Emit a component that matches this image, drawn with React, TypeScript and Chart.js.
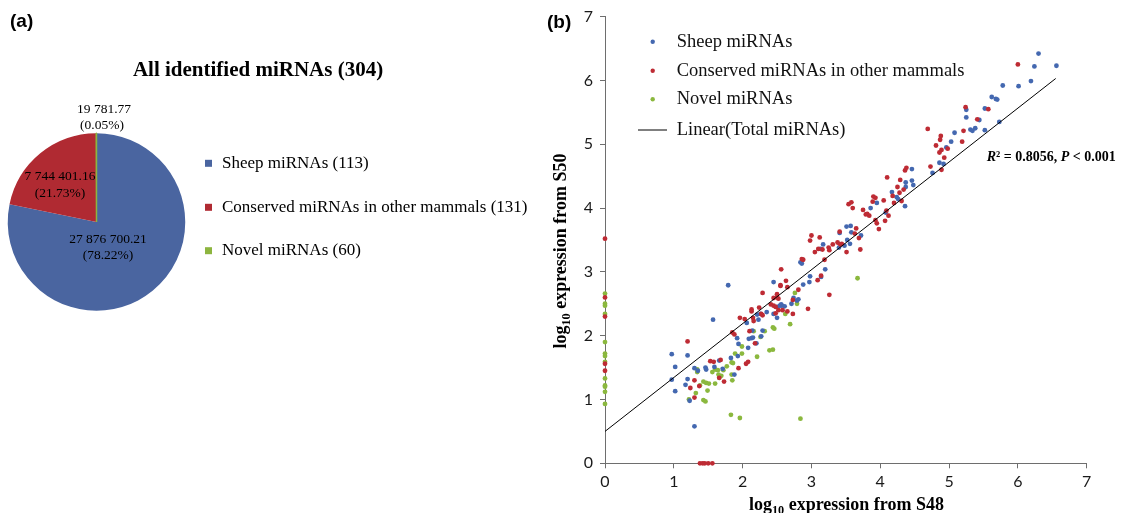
import React, { useEffect, useRef } from "react";
import { Chart, registerables } from "chart.js";
Chart.register(...registerables);

// ---------- Panel (a) data ----------
const pieCategories = ["Sheep miRNAs", "Conserved miRNAs in other mammals", "Novel miRNAs"];
const pieCounts = [113, 131, 60];
const pieValues = [27876700.21, 7744401.16, 19781.77];
const piePercents = ["78.22%", "21.73%", "0.05%"];
const pieTitle = "All identified miRNAs (304)";

// ---------- Panel (b) data ----------
const scatterLegend = ["Sheep miRNAs", "Conserved miRNAs in other mammals", "Novel miRNAs", "Linear(Total miRNAs)"];
const axisMin = 0;
const axisMax = 7;
const sheepPoints: [number, number][] = [
  [0.97,1.71],[1.20,1.69],[1.02,1.51],[0.97,1.31],[1.20,1.32],[1.02,1.13],[1.17,1.23],[1.23,0.98],[1.30,1.49],[1.35,1.45],
  [1.46,1.50],[1.47,1.47],[1.59,1.51],[1.66,1.61],[1.71,1.48],[1.83,1.65],[1.88,1.39],[1.93,1.68],[1.94,1.87],[1.92,1.96],
  [2.09,1.95],[2.13,1.96],[2.15,1.97],[2.27,1.99],[2.08,1.81],[1.30,0.58],[2.06,2.20],[2.23,2.25],[2.35,2.37],[2.26,2.34],
  [2.29,2.08],[2.45,2.34],[2.50,2.28],[2.50,2.45],[1.79,2.79],[2.45,2.84],[1.57,2.25],
  [3.51,3.71],[3.57,3.72],[3.58,3.62],[3.72,3.57],[3.41,3.61],[3.52,3.50],[3.56,3.44],[3.48,3.41],[3.40,3.38],[3.17,3.43],
  [3.13,3.36],[3.20,3.04],[2.98,2.93],[3.14,2.92],[2.97,2.84],[2.88,2.80],[2.84,3.15],[2.86,3.13],[2.74,2.59],[2.79,2.55],
  [2.81,2.57],[2.71,2.50],[2.54,2.47],[2.57,2.47],[2.61,2.46],[2.56,2.49],[2.21,2.33],[2.14,2.08],[2.20,1.88],[3.86,4.00],
  [3.95,4.08],[4.17,4.25],
  [6.30,6.42],[6.56,6.23],[6.24,6.22],[6.19,5.99],[6.01,5.91],[5.78,5.92],[5.62,5.74],[5.68,5.71],[5.70,5.70],[5.52,5.56],
  [5.25,5.54],[5.25,5.42],[5.44,5.38],[5.73,5.35],[5.31,5.23],[5.34,5.21],[5.38,5.25],[5.52,5.22],[5.08,5.18],[5.03,5.04],
  [4.96,4.95],[4.86,4.71],[4.92,4.69],[4.76,4.55],[4.46,4.61],[4.46,4.43],[4.48,4.36],[4.37,4.40],[4.37,4.33],[4.24,4.17],
  [4.26,4.14],[4.36,4.03],[4.08,3.93],
];
const conservedPoints: [number, number][] = [
  [0,3.52],[0,2.60],[0,2.30],[0,1.56],[0,1.45],
  [1.38,0],[1.42,0],[1.45,0],[1.50,0],[1.56,0],
  [1.20,1.91],[1.30,1.30],[1.30,1.03],[1.24,1.18],[1.37,1.21],[1.53,1.60],[1.58,1.59],[1.68,1.62],[1.66,1.34],[1.73,1.28],
  [1.85,2.05],[1.88,2.02],[1.94,1.49],[2.05,1.56],[2.08,1.59],[1.96,2.28],[2.03,2.26],[2.10,2.07],[2.16,2.23],[2.18,1.88],
  [2.13,2.41],[2.13,2.38],[2.24,2.44],[2.29,2.67],[2.41,2.49],[2.45,2.47],[2.48,2.45],[2.50,2.60],[2.52,2.58],[2.52,2.40],
  [2.55,2.79],
  [3.54,4.06],[3.58,4.09],[3.60,4.00],[3.41,3.63],[3.65,3.68],[3.75,3.97],[3.79,3.90],[3.84,3.88],[3.89,4.10],[3.90,4.18],
  [3.93,4.16],[3.93,3.81],[3.95,3.76],[3.98,3.67],[3.63,3.60],[3.69,3.53],[3.71,3.35],[3.51,3.31],[3.00,3.57],[2.98,3.49],
  [3.12,3.54],[3.05,3.31],[3.10,3.36],[3.16,3.35],[3.25,3.38],[3.26,3.34],[3.31,3.43],[3.38,3.46],[3.42,3.43],[3.44,3.44],
  [3.19,3.19],[2.86,3.20],[2.88,3.19],[3.14,2.94],[3.09,2.87],[3.26,2.64],[2.56,3.04],[2.63,2.86],[2.55,2.78],[2.65,2.76],
  [2.81,2.72],[2.50,2.65],[2.45,2.59],[2.58,2.40],[2.65,2.38],[2.73,2.56],[2.73,2.34],[2.95,2.42],[2.48,2.35],[2.29,2.32],
  [2.27,2.34],[2.15,2.28],[3.81,3.91],
  [6.00,6.25],[5.24,5.58],[5.57,5.55],[5.41,5.39],[4.69,5.24],[4.88,5.13],[4.87,5.07],[4.81,4.98],[5.21,5.21],[5.19,5.04],
  [4.98,4.93],[4.89,4.91],[4.86,4.87],[4.93,4.79],[4.73,4.65],[4.89,4.60],[4.38,4.63],[4.36,4.59],[4.29,4.44],[4.10,4.48],
  [4.25,4.33],[4.34,4.29],[4.28,4.24],[4.18,4.19],[4.05,4.12],[4.20,4.08],[4.31,4.11],[4.12,3.88],[4.07,3.80],[4.09,3.96],
];
const novelPoints: [number, number][] = [
  [0,2.66],[0,2.50],[0,2.47],[0,2.34],[0,1.90],[0,1.72],[0,1.68],[0,1.59],[0,1.33],[0,1.22],[0,1.20],[0,1.12],[0,0.93],
  [1.22,1.00],[1.34,1.47],[1.34,1.43],[1.32,1.10],[1.38,1.22],[1.43,1.28],[1.47,1.26],[1.51,1.25],[1.49,1.14],[1.43,0.99],
  [1.46,0.97],[1.56,1.43],[1.60,1.25],[1.60,1.47],[1.64,1.46],[1.65,1.39],[1.66,1.34],[1.69,1.37],[1.72,1.46],[1.77,1.52],
  [1.84,1.58],[1.86,1.57],[1.84,1.39],[1.85,1.30],[1.89,1.72],[1.99,1.83],[1.99,1.72],[2.16,2.07],[2.21,1.67],[2.26,1.98],
  [2.32,2.07],[2.39,1.77],[2.44,1.78],[2.44,2.13],[2.46,2.11],[1.83,0.76],[1.96,0.71],[2.84,0.70],[3.67,2.90],[2.76,2.67],
  [2.79,2.50],[2.62,2.34],[2.69,2.18],
];
const trendX = [0, 6.55];
const trendY = [0.5, 6.03];
const rSquared = "0.8056";
const pValue = "0.001";
const xTitleRest = " expression from S48";
const yTitleRest = " expression from S50";

// ---------- styles ----------
const pieColors = ["#4A65A0", "#B02A32", "#8DB53F"];
const dotColors = ["#4468B0", "#BE2B34", "#8BB83E"];
const SERIF = '"Liberation Serif", "Times New Roman", serif';
const SANS = '"Liberation Sans", Arial, sans-serif';

function formatValue(v: number): string {
  const [ip, dp] = v.toFixed(2).split(".");
  const groups: string[] = [];
  for (let i = ip.length; i > 0; i -= 3) groups.unshift(ip.slice(Math.max(0, i - 3), i));
  return groups.join(" ") + "." + dp;
}

function drawLogLabel(ctx: CanvasRenderingContext2D, cx: number, cy: number, rest: string, size: number, rotate: boolean) {
  ctx.save();
  ctx.translate(cx, cy);
  if (rotate) ctx.rotate(-Math.PI / 2);
  const big = `bold ${size}px ${SERIF}`;
  const small = `bold ${size * 0.68}px ${SERIF}`;
  ctx.font = big;
  const w1 = ctx.measureText("log").width;
  const w3 = ctx.measureText(rest).width;
  ctx.font = small;
  const w2 = ctx.measureText("10").width;
  let x = -(w1 + w2 + w3) / 2;
  const base = size * 0.32;
  ctx.textAlign = "left";
  ctx.textBaseline = "alphabetic";
  ctx.fillStyle = "#000";
  ctx.font = big;
  ctx.fillText("log", x, base);
  x += w1;
  ctx.font = small;
  ctx.fillText("10", x, base + size * 0.22);
  x += w2;
  ctx.font = big;
  ctx.fillText(rest, x, base);
  ctx.restore();
}

const pieDecor = {
  id: "pieDecor",
  afterDraw(chart: any) {
    const ctx: CanvasRenderingContext2D = chart.ctx;
    ctx.save();
    ctx.fillStyle = "#000";
    ctx.textBaseline = "middle";
    ctx.textAlign = "left";
    ctx.font = `bold 19px ${SANS}`;
    ctx.fillText("(a)", 10, 22);
    ctx.textAlign = "center";
    ctx.font = `bold 21px ${SERIF}`;
    ctx.fillText(pieTitle, 258, 71);
    // value labels
    ctx.font = `13.5px ${SERIF}`;
    const labelPos = [
      [108, 239],
      [60, 176.5],
      [104, 109],
    ];
    pieValues.forEach((v, i) => {
      const [x, y] = labelPos[i];
      ctx.fillText(formatValue(v), x, y);
      ctx.fillText(`(${piePercents[i]})`, x - (i === 2 ? 2 : 0), y + 16.7);
    });
    // legend
    const rows = [163.3, 207.3, 250.7];
    ctx.textAlign = "left";
    ctx.font = `17px ${SERIF}`;
    pieCategories.forEach((c, i) => {
      ctx.fillStyle = pieColors[i];
      ctx.fillRect(205, rows[i] - 3.5, 7, 7);
      ctx.fillStyle = "#000";
      ctx.fillText(`${c} (${pieCounts[i]})`, 222, rows[i]);
    });
    ctx.restore();
  },
};

const scatterDecor = {
  id: "scatterDecor",
  afterDraw(chart: any) {
    const ctx: CanvasRenderingContext2D = chart.ctx;
    ctx.save();
    ctx.fillStyle = "#000";
    ctx.textBaseline = "middle";
    ctx.textAlign = "left";
    ctx.font = `bold 19px ${SANS}`;
    ctx.fillText("(b)", 7, 23);
    // legend
    const rows = [41.7, 70.7, 99.3, 130];
    ctx.font = `18.5px ${SERIF}`;
    scatterLegend.forEach((t, i) => {
      if (i < 3) {
        ctx.fillStyle = dotColors[i];
        ctx.beginPath();
        ctx.arc(112.7, rows[i], 2.2, 0, Math.PI * 2);
        ctx.fill();
      } else {
        ctx.strokeStyle = "#000";
        ctx.lineWidth = 1;
        ctx.beginPath();
        ctx.moveTo(98, rows[i]);
        ctx.lineTo(127, rows[i]);
        ctx.stroke();
      }
      ctx.fillStyle = "#111";
      ctx.fillText(t, 136.7, rows[i]);
    });
    // statistics
    const parts: [string, boolean][] = [["R", true], ["\u00B2 = " + rSquared + ", ", false], ["P", true], [" < " + pValue, false]];
    let x = 446.7;
    ctx.fillStyle = "#000";
    parts.forEach(([t, it]) => {
      ctx.font = `${it ? "italic " : ""}bold 14px ${SERIF}`;
      ctx.fillText(t, x, 157.7);
      x += ctx.measureText(t).width;
    });
    // axis titles
    drawLogLabel(ctx, 306.5, 504, xTitleRest, 18, false);
    drawLogLabel(ctx, 20, 251, yTitleRest, 18, true);
    ctx.restore();
  },
};

const toXY = (pts: [number, number][]) => pts.map(([x, y]) => ({ x, y }));

export default function App() {
  const pieRef = useRef<HTMLCanvasElement>(null);
  const scRef = useRef<HTMLCanvasElement>(null);

  useEffect(() => {
    const pie = new Chart(pieRef.current!, {
      type: "pie",
      data: {
        labels: pieCategories,
        datasets: [
          {
            data: pieValues,
            backgroundColor: pieColors,
            borderColor: pieColors,
            borderWidth: [0, 0, 1.5],
          } as any,
        ],
      },
      options: {
        responsive: false,
        animation: false,
        events: [],
        layout: { padding: { left: 7, top: 132.5, right: 354, bottom: 201.5 } },
        plugins: { legend: { display: false }, tooltip: { enabled: false }, title: { display: false } },
      },
      plugins: [pieDecor],
    });

    const axisColor = "#6e6e6e";
    const tickFont = { family: "Lato, 'Open Sans', sans-serif", size: 16 };
    const sc = new Chart(scRef.current!, {
      type: "scatter",
      data: {
        datasets: [
          {
            type: "line",
            label: scatterLegend[3],
            data: trendX.map((x, i) => ({ x, y: trendY[i] })),
            borderColor: "#000",
            borderWidth: 1,
            pointRadius: 0,
            order: 0,
            clip: false,
          } as any,
          {
            label: scatterLegend[0],
            data: toXY(sheepPoints),
            backgroundColor: dotColors[0],
            borderColor: dotColors[0],
            pointRadius: 2.4,
            borderWidth: 0,
            order: 2,
            clip: false,
          },
          {
            label: scatterLegend[1],
            data: toXY(conservedPoints),
            backgroundColor: dotColors[1],
            borderColor: dotColors[1],
            pointRadius: 2.4,
            borderWidth: 0,
            order: 1,
            clip: false,
          },
          {
            label: scatterLegend[2],
            data: toXY(novelPoints),
            backgroundColor: dotColors[2],
            borderColor: dotColors[2],
            pointRadius: 2.4,
            borderWidth: 0,
            order: 3,
            clip: false,
          },
        ],
      },
      options: {
        responsive: false,
        animation: false,
        events: [],
        layout: { padding: { left: 0, top: 15.3, right: 37.3, bottom: 0 } },
        plugins: { legend: { display: false }, tooltip: { enabled: false } },
        scales: {
          x: {
            type: "linear",
            min: axisMin,
            max: axisMax,
            afterFit: (s: any) => {
              s.height = 49.7;
            },
            ticks: { stepSize: 1, padding: 4, font: tickFont, color: "#1a1a1a" },
            grid: { drawOnChartArea: false, tickLength: 5, color: axisColor },
            border: { color: axisColor, width: 1 },
          },
          y: {
            type: "linear",
            min: axisMin,
            max: axisMax,
            afterFit: (s: any) => {
              s.width = 65;
            },
            ticks: { stepSize: 1, padding: 7, font: tickFont, color: "#1a1a1a" },
            grid: { drawOnChartArea: false, tickLength: 5, color: axisColor },
            border: { color: axisColor, width: 1 },
          },
        },
      },
      plugins: [scatterDecor],
    });

    return () => {
      pie.destroy();
      sc.destroy();
    };
  }, []);

  return (
    <div style={{ position: "fixed", left: 0, top: 0, width: 1124, height: 513, background: "#fff" }}>
      <canvas ref={pieRef} width={540} height={513} style={{ position: "absolute", left: 0, top: 0 }} />
      <canvas ref={scRef} width={584} height={513} style={{ position: "absolute", left: 540, top: 0 }} />
    </div>
  );
}
